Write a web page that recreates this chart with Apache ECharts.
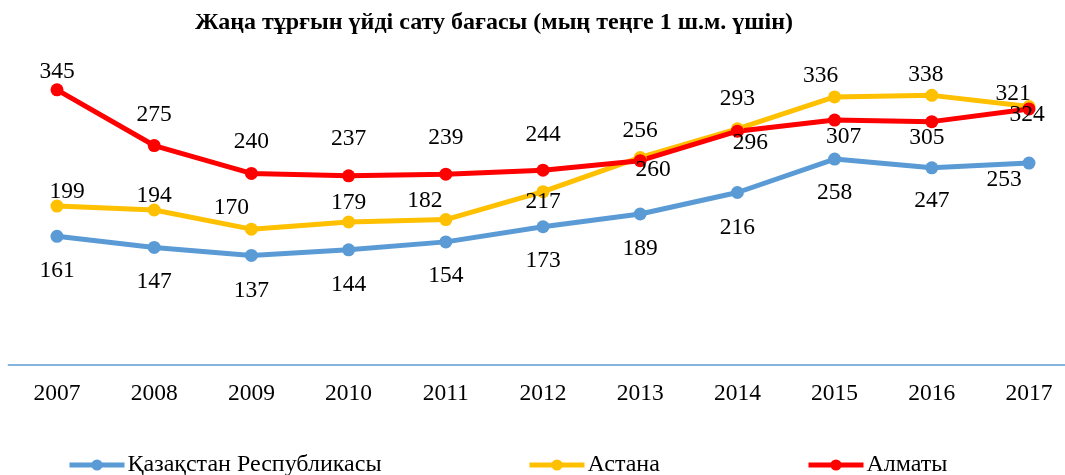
<!DOCTYPE html>
<html>
<head>
<meta charset="utf-8">
<script src="https://cdn.jsdelivr.net/npm/echarts@6/dist/echarts.min.js"></script>
<style>
  html, body { margin: 0; padding: 0; background: #fff; overflow: hidden; width: 1065px; height: 475px; }
  #chart { width: 1078px; height: 475px; }
</style>
</head>
<body>
<div id="chart"></div>
<script>
const titleText = 'Жаңа тұрғын үйді сату бағасы (мың теңге 1 ш.м. үшін)';
const categories = ['2007', '2008', '2009', '2010', '2011', '2012', '2013', '2014', '2015', '2016', '2017'];
const seriesNames = ['Қазақстан Республикасы', 'Астана', 'Алматы'];
const kazakhstan = [161, 147, 137, 144, 154, 173, 189, 216, 258, 247, 253];
const astana = [199, 194, 170, 179, 182, 217, 260, 296, 336, 338, 324];
const almaty = [345, 275, 240, 237, 239, 244, 256, 293, 307, 305, 321];

// label placement (offset of label centre from point), kept apart from the data
const kazLabelOffsets = [[0,35],[0,34],[0,35],[0,35],[0,34],[0,34],[0,35],[0,35],[0,34],[0,33],[-25,17]];
const astLabelOffsets = [[10,-14],[0,-14],[-20,-21],[0,-19],[-21,-19],[0,10],[13,12],[13,14],[-14,-21],[-6,-21],[-2,8]];
const almLabelOffsets = [[0,-18],[0,-31],[0,-32],[0,-37],[0,-36],[0,-35],[0,-30],[0,-32],[9,17],[-5,16],[-16,-15]];

const FONT = "'Liberation Serif', 'Times New Roman', serif";
const colors = ['#5B9BD5', '#FFC000', '#FF0000'];

function buildData(values, offsets) {
  return values.map((v, i) => ({
    value: v,
    label: { offset: offsets[i] }
  }));
}

function makeSeries(name, values, offsets, color) {
  return {
    name: name,
    type: 'line',
    data: buildData(values, offsets),
    symbol: 'circle',
    symbolSize: 13,
    lineStyle: { color: color, width: 5 },
    itemStyle: { color: color },
    label: {
      show: true,
      position: 'inside',
      fontFamily: FONT,
      fontSize: 23.5,
      color: '#000'
    },
    emphasis: { disabled: true },
    animation: false
  };
}

const chart = echarts.init(document.getElementById('chart'), null, { renderer: 'canvas' });
chart.setOption({
  backgroundColor: '#fff',
  animation: false,
  title: {
    text: titleText,
    left: 190,
    top: 6,
    textStyle: { fontFamily: FONT, fontSize: 24, fontWeight: 'bold', color: '#000' }
  },
  legend: [0, 1, 2].map((k) => ({
    data: [seriesNames[k]],
    left: [67, 527, 806][k],
    top: 453,
    padding: 0,
    itemWidth: 55,
    itemHeight: 14,
    itemGap: 5,
    lineStyle: { width: 5 },
    textStyle: { fontFamily: FONT, fontSize: 24, color: '#000', padding: [0, 0, 0, -2] }
  })),
  grid: { left: 8.4, right: 0.4, top: 46, height: 318.5, containLabel: false },
  xAxis: {
    type: 'category',
    data: categories,
    boundaryGap: true,
    axisLine: { show: true, lineStyle: { color: '#5B9BD5', width: 1.5 } },
    axisTick: { show: false },
    axisLabel: { fontFamily: FONT, fontSize: 23.5, color: '#000', margin: 17 },
    splitLine: { show: false }
  },
  yAxis: {
    type: 'value',
    min: 0,
    max: 400,
    interval: 50,
    show: false,
    splitLine: { show: false }
  },
  series: [
    makeSeries(seriesNames[0], kazakhstan, kazLabelOffsets, colors[0]),
    makeSeries(seriesNames[1], astana, astLabelOffsets, colors[1]),
    makeSeries(seriesNames[2], almaty, almLabelOffsets, colors[2])
  ]
});
</script>
</body>
</html>
